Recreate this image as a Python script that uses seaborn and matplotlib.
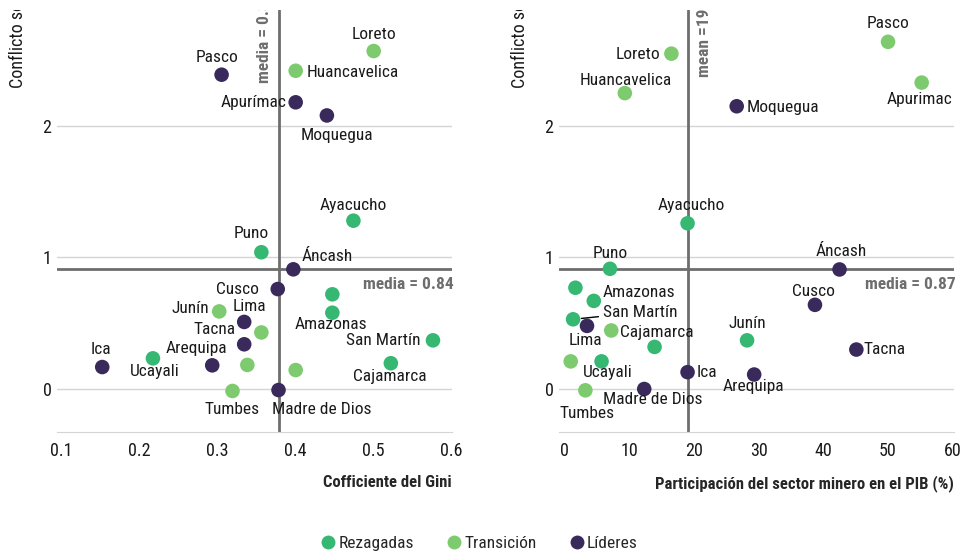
import pandas as pd
import matplotlib.pyplot as plt
import seaborn as sns
from matplotlib.lines import Line2D
from matplotlib.transforms import Bbox, TransformedBbox, blended_transform_factory

# ---------- data ----------
groups = ["Rezagadas", "Transición", "Líderes"]
colors = ["#36b872", "#7dcb6e", "#3a2a5c"]

# panel 1: Gini vs conflictos
gini_region = ["Loreto", "Huancavelica", "Pasco", "Apurímac", "Moquegua", "Ayacucho",
               "Puno", "Áncash", "Cusco", "", "Amazonas", "Junín", "Lima", "", "Tacna",
               "Arequipa", "Ica", "Ucayali", "", "", "Tumbes", "Madre de Dios",
               "San Martín", "Cajamarca"]
gini_x = [0.50, 0.40, 0.305, 0.40, 0.44, 0.474, 0.356, 0.397, 0.377, 0.447, 0.447, 0.302,
          0.334, 0.356, 0.334, 0.293, 0.152, 0.217, 0.338, 0.40, 0.319, 0.378, 0.576, 0.522]
gini_y = [2.57, 2.42, 2.39, 2.18, 2.08, 1.28, 1.04, 0.91, 0.76, 0.72, 0.58, 0.59, 0.51,
          0.43, 0.34, 0.18, 0.167, 0.233, 0.183, 0.144, -0.015, -0.008, 0.37, 0.196]
gini_group = ["Transición", "Transición", "Líderes", "Líderes", "Líderes", "Rezagadas",
              "Rezagadas", "Líderes", "Líderes", "Rezagadas", "Rezagadas", "Transición",
              "Líderes", "Transición", "Líderes", "Líderes", "Líderes", "Rezagadas",
              "Transición", "Transición", "Transición", "Líderes", "Rezagadas", "Rezagadas"]
gini_mean_x, gini_mean_y = 0.378, 0.914

# panel 2: mining share vs conflictos
pib_region = ["Pasco", "Loreto", "Huancavelica", "Moquegua", "Apurimac", "Ayacucho", "Puno",
              "Áncash", "", "Amazonas", "Cusco", "San Martín", "Lima", "Cajamarca", "",
              "Junín", "Tacna", "", "Ucayali", "Ica", "Arequipa", "Tumbes", "Madre de Dios"]
pib_x = [50.0, 16.5, 9.3, 26.6, 55.2, 19.0, 7.0, 42.5, 1.66, 4.5, 38.7, 1.3, 3.45, 7.2,
         13.9, 28.2, 45.1, 0.93, 5.7, 19.0, 29.3, 3.2, 12.3]
pib_y = [2.64, 2.55, 2.25, 2.15, 2.33, 1.26, 0.914, 0.909, 0.77, 0.67, 0.64, 0.53, 0.48,
         0.445, 0.32, 0.37, 0.30, 0.21, 0.21, 0.128, 0.11, -0.01, 0.0]
pib_group = ["Transición", "Transición", "Transición", "Líderes", "Transición", "Rezagadas",
             "Rezagadas", "Líderes", "Rezagadas", "Rezagadas", "Líderes", "Rezagadas",
             "Líderes", "Transición", "Rezagadas", "Rezagadas", "Líderes", "Transición",
             "Rezagadas", "Líderes", "Líderes", "Transición", "Líderes"]
pib_mean_x, pib_mean_y = 19.0, 0.914

# label placement: (dx px, dy px, ha)
gini_lab = {
    "Loreto": (0, 17, "center"), "Huancavelica": (11, -2, "left"), "Pasco": (-5, 17, "center"),
    "Apurímac": (-9, 0, "right"), "Moquegua": (10, -20, "center"), "Ayacucho": (0, 15, "center"),
    "Puno": (-10, 19, "center"), "Áncash": (8, 13, "left"), "Cusco": (-19, 0, "right"),
    "Amazonas": (-1, -12, "center"), "Junín": (-10, 3, "right"), "Lima": (5, 15, "center"),
    "Tacna": (-9, 15, "right"), "Arequipa": (15, 17, "right"), "Ica": (-1, 18, "center"),
    "Ucayali": (2, -13, "center"), "Tumbes": (0, -19, "center"),
    "Madre de Dios": (-7, -19, "left"), "San Martín": (-12, 0, "right"),
    "Cajamarca": (-1, -13, "center"),
}
pib_lab = {
    "Pasco": (0, 18, "center"), "Loreto": (-11, -1, "right"), "Huancavelica": (1, 13, "center"),
    "Moquegua": (10, -1, "left"), "Apurimac": (-2, -17, "center"), "Ayacucho": (4, 18, "center"),
    "Puno": (0, 15, "center"), "Áncash": (2, 18, "center"), "Amazonas": (9, 8, "left"),
    "Cusco": (-2, 13, "center"), "San Martín": (30, 7, "left"), "Lima": (-2, -15, "center"),
    "Cajamarca": (9, -2, "left"), "Junín": (0, 17, "center"), "Tacna": (7, 0, "left"),
    "Ucayali": (6, -11, "center"), "Ica": (9, 0, "left"), "Arequipa": (-1, -12, "center"),
    "Tumbes": (2, -23, "center"), "Madre de Dios": (9, -11, "center"),
}

sns.set_style("white")
plt.rcParams["font.family"] = ["Noto Sans Condensed", "Roboto Condensed",
                               "Liberation Sans Narrow", "Lato", "DejaVu Sans"]
plt.rcParams["font.stretch"] = "condensed"

fig = plt.figure(figsize=(9.63, 5.53), dpi=100)
ax1 = fig.add_axes([57 / 963, 121 / 553, 395 / 963, 422 / 553])
ax2 = fig.add_axes([559 / 963, 121 / 553, 395 / 963, 422 / 553])

gray = "#6e6e6e"
palette = dict(zip(groups, colors))
fs = 12.5


def panel(ax, names, xs, ys, grp, labs, mx, my, xlim, xticks, xlab, vtext, vdx, vy, htext):
    df = pd.DataFrame({"region": names, "x": xs, "y": ys, "grupo": grp})
    ax.set_yticks([0, 1, 2])
    ax.yaxis.grid(True, color="#d4d4d4", lw=1)
    ax.axvline(mx, color=gray, lw=2, zorder=1)
    ax.axhline(my, color=gray, lw=2, zorder=1)
    sns.scatterplot(data=df, x="x", y="y", hue="grupo", palette=palette, s=110,
                    edgecolor="none", legend=False, ax=ax, zorder=3)
    for _, r in df.iterrows():
        if r["region"] in labs:
            dx, dy, ha = labs[r["region"]]
            arrow = None
            if r["region"] == "San Martín" and ha == "left" and dx > 20:
                arrow = dict(arrowstyle="-", color="black", lw=1, shrinkA=1, shrinkB=6)
            ax.annotate(r["region"], (r["x"], r["y"]), xytext=(dx, dy),
                        textcoords="offset pixels", ha=ha, va="center", fontsize=fs,
                        color="#1a1a1a", arrowprops=arrow, zorder=4)
    ax.set_xlim(*xlim)
    ax.set_ylim(-0.327, 2.882)
    ax.set_xticks(xticks)
    ax.set_xticklabels([f"{t:g}" for t in xticks])
    ax.tick_params(length=0, labelsize=13, colors="#1a1a1a")
    ax.tick_params(axis="x", pad=7)
    ax.tick_params(axis="y", pad=4)
    for s in ["top", "right", "left"]:
        ax.spines[s].set_visible(False)
    ax.spines["bottom"].set_color("#d4d4d4")
    ax.set_xlabel(xlab, loc="right", fontsize=12, fontweight="bold", labelpad=11)
    ax.set_ylabel("")
    tr = blended_transform_factory(ax.transData, ax.transAxes)
    ax.annotate(vtext, (mx, vy), xycoords=tr, xytext=(vdx, 0), textcoords="offset pixels",
                rotation=90, ha="center", va="bottom", fontsize=fs, fontweight="bold",
                color=gray, annotation_clip=False, clip_on=True)
    tr2 = blended_transform_factory(ax.transAxes, ax.transData)
    ax.annotate(htext, (1.0, my), xycoords=tr2, xytext=(2, -16), textcoords="offset pixels",
                ha="right", va="center", fontsize=fs, fontweight="bold", color=gray)


panel(ax1, gini_region, gini_x, gini_y, gini_group, gini_lab, gini_mean_x, gini_mean_y,
      (0.094, 0.6004), [0.1, 0.2, 0.3, 0.4, 0.5, 0.6], "Cofficiente del Gini",
      "media = 0.38", -14, 0.827, "media = 0.84")
panel(ax2, pib_region, pib_x, pib_y, pib_group, pib_lab, pib_mean_x, pib_mean_y,
      (-0.88, 60.2), [0, 10, 20, 30, 40, 50, 60],
      "Participación del sector minero en el PIB (%)",
      "mean =19.02", 17, 0.841, "media = 0.87")

# y labels, clipped at top like the original
clip = TransformedBbox(Bbox.from_extents(0, 0, 1, 543 / 553), fig.transFigure)
for xf in [18 / 963, 520 / 963]:
    t = fig.text(xf, 465 / 553, "Conflicto social", rotation=90, ha="center", va="bottom",
                 fontsize=13, color="#1a1a1a")
    t.set_clip_box(clip)
    t.set_clip_on(True)

handles = [Line2D([], [], marker="o", ls="", markersize=10, color=c, markeredgewidth=0)
           for c in colors]
fig.legend(handles, groups, loc="center", bbox_to_anchor=(0.497, 10 / 553), ncol=3,
           frameon=False, fontsize=fs, handletextpad=0.1, columnspacing=1.8,
           handlelength=1.0)

plt.savefig("out.png", dpi=100)
